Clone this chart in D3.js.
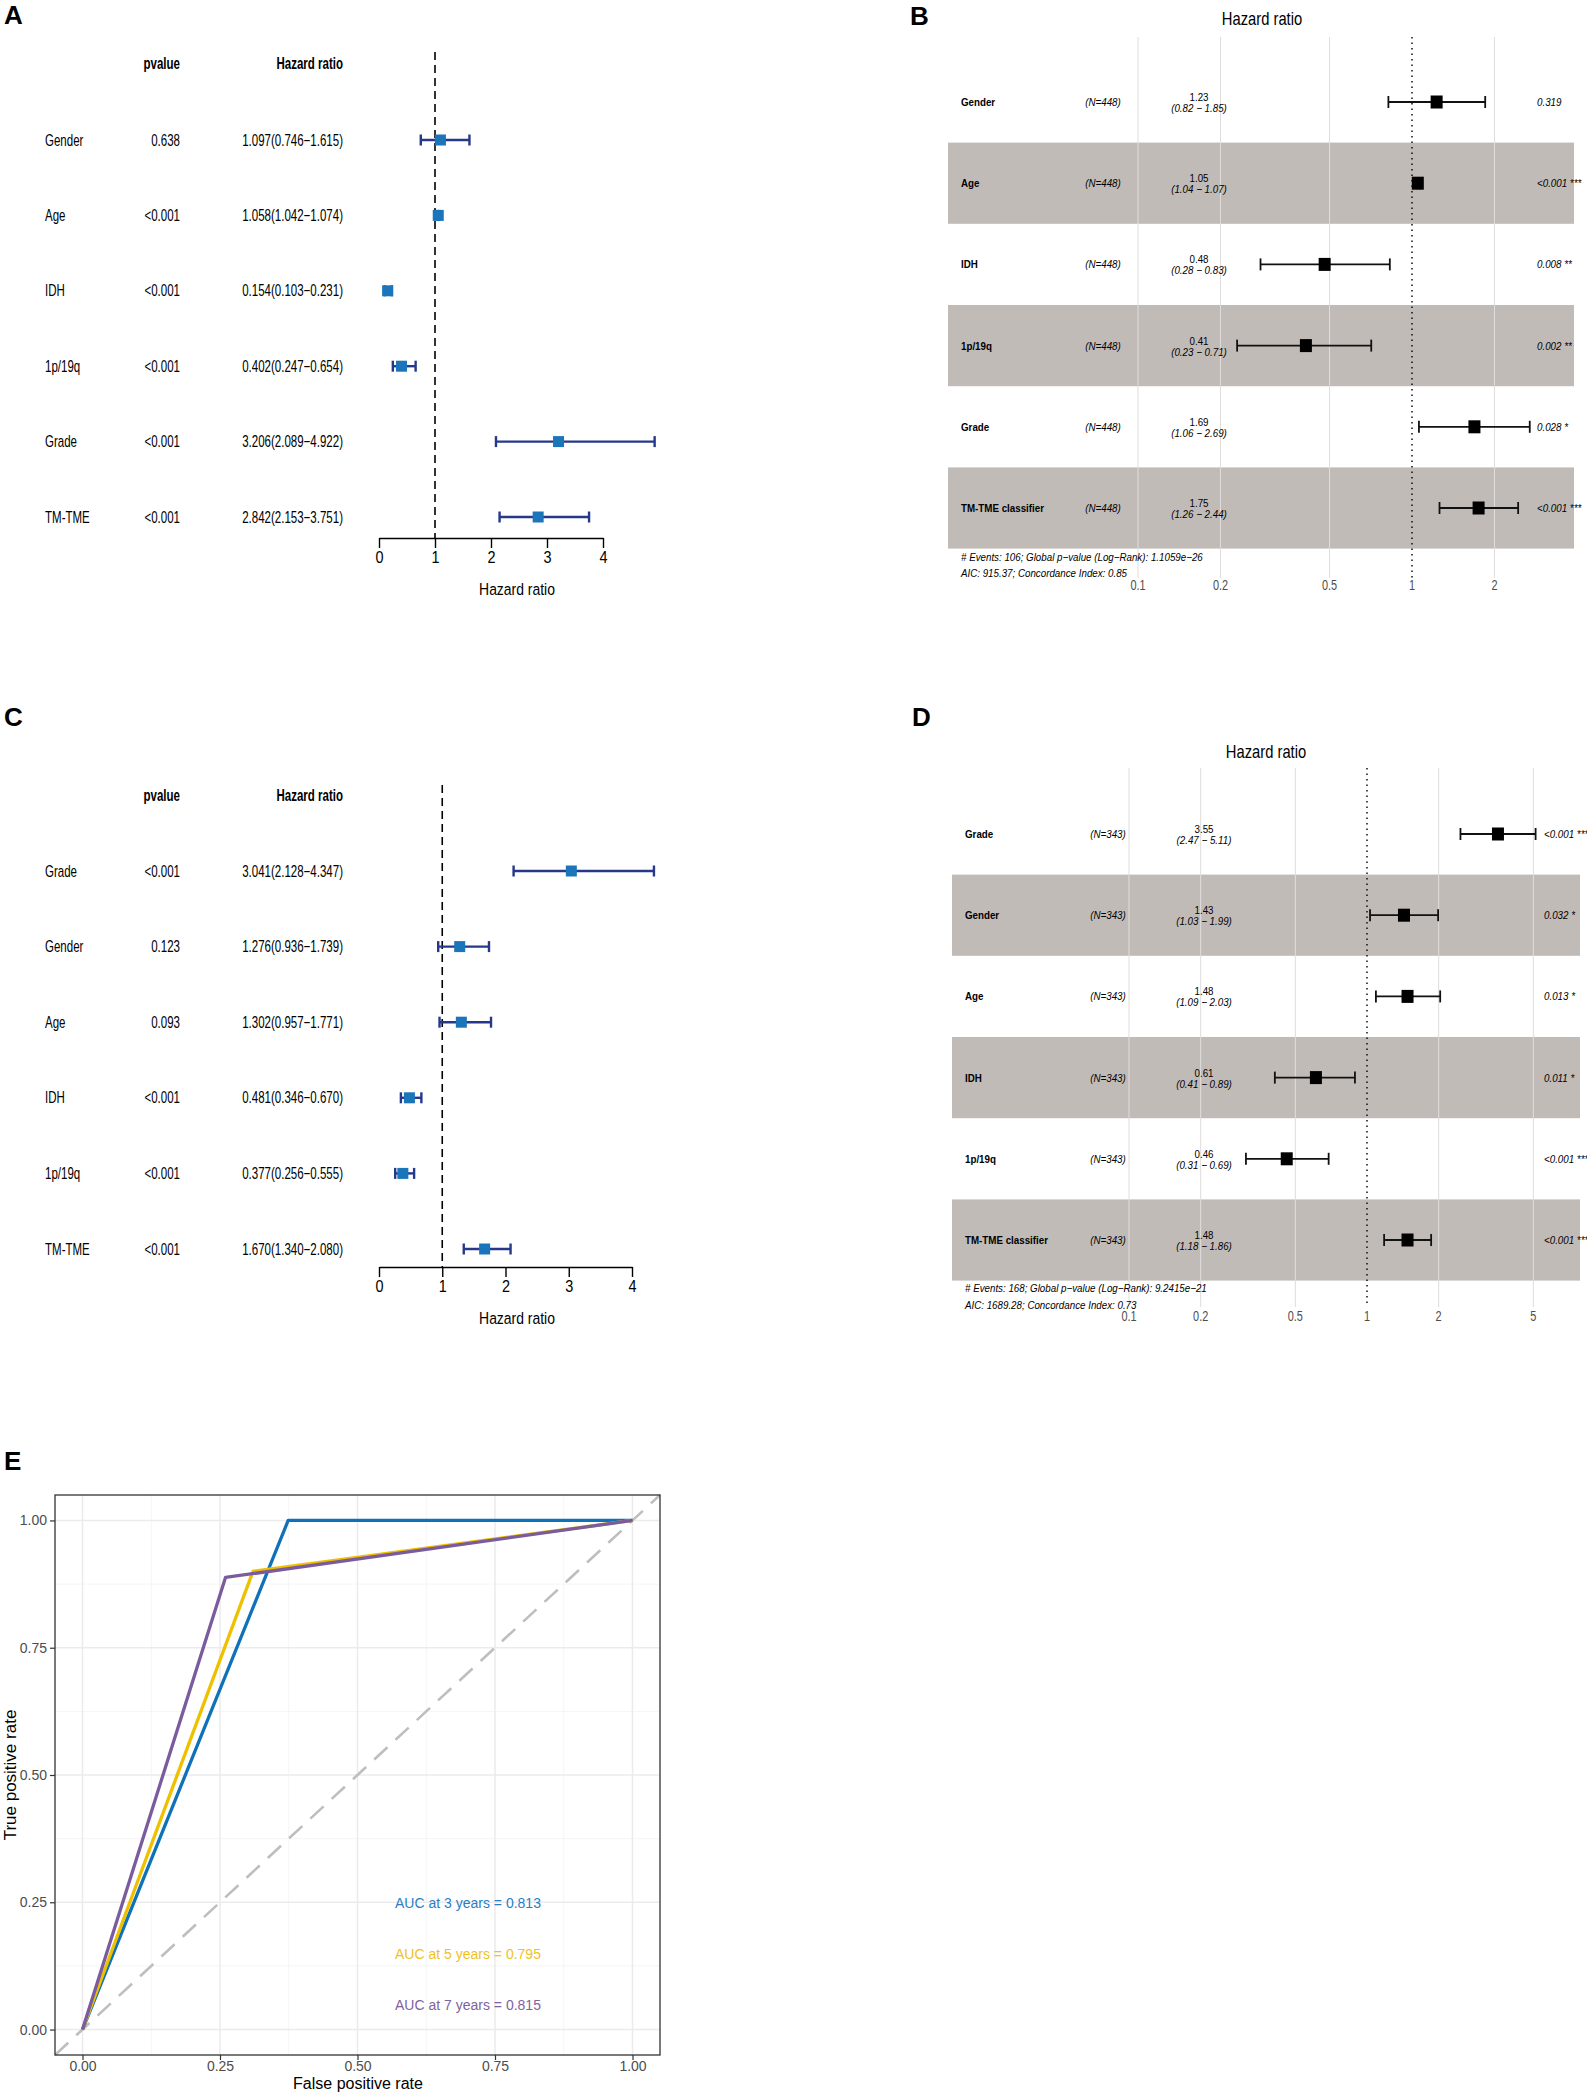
<!DOCTYPE html>
<html>
<head>
<meta charset="utf-8">
<script src="https://cdn.jsdelivr.net/npm/d3@7"></script>
<style>
  body { margin: 0; background: #fff; }
  text { font-family: "Liberation Sans", Arial, Helvetica, sans-serif; }
</style>
</head>
<body>
<div id="fig"></div>
<script>
//
// Data
//

// A: univariate cox, TCGA
const uniLabels = ["Gender", "Age", "IDH", "1p/19q", "Grade", "TM-TME"];
const uniP = ["0.638", "<0.001", "<0.001", "<0.001", "<0.001", "<0.001"];
const uniHR = [1.097, 1.058, 0.154, 0.402, 3.206, 2.842];
const uniLo = [0.746, 1.042, 0.103, 0.247, 2.089, 2.153];
const uniHi = [1.615, 1.074, 0.231, 0.654, 4.922, 3.751];

// B: multivariate cox, TCGA
const multiLabels = ["Gender", "Age", "IDH", "1p/19q", "Grade", "TM-TME classifier"];
const multiN = ["(N=448)", "(N=448)", "(N=448)", "(N=448)", "(N=448)", "(N=448)"];
const multiHR = [1.23, 1.05, 0.48, 0.41, 1.69, 1.75];
const multiLo = [0.82, 1.04, 0.28, 0.23, 1.06, 1.26];
const multiHi = [1.85, 1.07, 0.83, 0.71, 2.69, 2.44];
const multiP = ["0.319", "<0.001 ***", "0.008 **", "0.002 **", "0.028 *", "<0.001 ***"];
const multiFoot = [
  "# Events: 106; Global p\u2212value (Log\u2212Rank): 1.1059e\u221226",
  "AIC: 915.37; Concordance Index: 0.85",
];
const multiTicks = [0.1, 0.2, 0.5, 1, 2];

// C: univariate cox, CGGA
const uni2Labels = ["Grade", "Gender", "Age", "IDH", "1p/19q", "TM-TME"];
const uni2P = ["<0.001", "0.123", "0.093", "<0.001", "<0.001", "<0.001"];
const uni2HR = [3.041, 1.276, 1.302, 0.481, 0.377, 1.67];
const uni2Lo = [2.128, 0.936, 0.957, 0.346, 0.256, 1.34];
const uni2Hi = [4.347, 1.739, 1.771, 0.67, 0.555, 2.08];

// D: multivariate cox, CGGA
const multi2Labels = ["Grade", "Gender", "Age", "IDH", "1p/19q", "TM-TME classifier"];
const multi2N = ["(N=343)", "(N=343)", "(N=343)", "(N=343)", "(N=343)", "(N=343)"];
const multi2HR = [3.55, 1.43, 1.48, 0.61, 0.46, 1.48];
const multi2Lo = [2.47, 1.03, 1.09, 0.41, 0.31, 1.18];
const multi2Hi = [5.11, 1.99, 2.03, 0.89, 0.69, 1.86];
const multi2P = ["<0.001 ***", "0.032 *", "0.013 *", "0.011 *", "<0.001 ***", "<0.001 ***"];
const multi2Foot = [
  "# Events: 168; Global p\u2212value (Log\u2212Rank): 9.2415e\u221221",
  "AIC: 1689.28; Concordance Index: 0.73",
];
const multi2Ticks = [0.1, 0.2, 0.5, 1, 2, 5];

const hrTicks = [0, 1, 2, 3, 4];

// E: time dependent ROC
const rocYears = [3, 5, 7];
const rocAUC = ["0.813", "0.795", "0.815"];
const rocFPR = [
  [0, 0.374, 1],
  [0, 0.31, 1],
  [0, 0.26, 1],
];
const rocTPR = [
  [0, 1, 1],
  [0, 0.9, 1],
  [0, 0.888, 1],
];
const rocColors = ["#0f72b8", "#efc000", "#7a5c9e"];
const rocTextColors = ["#2a7ec6", "#f0c21a", "#7e63a0"];
const rocTicks = [0, 0.25, 0.5, 0.75, 1];

//
// Helpers
//

const svg = d3
  .select("#fig")
  .append("svg")
  .attr("width", 1587)
  .attr("height", 2092);

// text with horizontal squeeze, the original was rendered with a narrow font
function txt(g, x, y, s, o = {}) {
  return g
    .append("text")
    .attr("transform", `translate(${x},${y}) scale(${o.sx || 1},1)`)
    .attr("text-anchor", o.anchor || "start")
    .attr("dy", "0.35em")
    .style("font-size", (o.size || 12) + "px")
    .style("font-weight", o.bold ? "bold" : null)
    .style("font-style", o.italic ? "italic" : null)
    .attr("fill", o.color || "#000")
    .text(s);
}

function panelLetter(x, y, s) {
  svg
    .append("text")
    .attr("x", x)
    .attr("y", y)
    .style("font-size", "26px")
    .style("font-weight", "bold")
    .text(s);
}

//
// Panels A and C (base R style forest)
//

function forestBase(d) {
  const g = svg.append("g");
  const x = d3.scaleLinear().domain([0, 4]).range(d.xRange);
  const y = d3.scalePoint().domain(d.labels).range(d.yRange);
  const f = d3.format(".3f");
  const sq = { sx: 0.72, size: 16 };

  txt(g, 180, d.headY, "pvalue", { ...sq, anchor: "end", bold: true });
  txt(g, 343, d.headY, "Hazard ratio", { ...sq, anchor: "end", bold: true });

  d.labels.forEach((lab, i) => {
    const yy = y(lab);
    txt(g, 45, yy, lab, sq);
    txt(g, 180, yy, d.p[i], { ...sq, anchor: "end" });
    txt(g, 343, yy, `${f(d.hr[i])}(${f(d.lo[i])}\u2212${f(d.hi[i])})`, {
      ...sq,
      anchor: "end",
    });
  });

  g.append("line")
    .attr("x1", x(1))
    .attr("x2", x(1))
    .attr("y1", d.top)
    .attr("y2", d.axisY)
    .attr("stroke", "#000")
    .attr("stroke-width", 1.6)
    .attr("stroke-dasharray", "8,5");

  d.labels.forEach((lab, i) => {
    const yy = y(lab);
    const row = g.append("g").attr("stroke", "#25388a").attr("stroke-width", 2.4);
    row.append("line").attr("x1", x(d.lo[i])).attr("x2", x(d.hi[i])).attr("y1", yy).attr("y2", yy);
    [d.lo[i], d.hi[i]].forEach((v) =>
      row.append("line").attr("x1", x(v)).attr("x2", x(v)).attr("y1", yy - 5.5).attr("y2", yy + 5.5)
    );
    g.append("rect")
      .attr("x", x(d.hr[i]) - 5.5)
      .attr("y", yy - 5.5)
      .attr("width", 11)
      .attr("height", 11)
      .attr("fill", "#1b75bb");
  });

  const ax = g
    .append("g")
    .attr("transform", `translate(0,${d.axisY})`)
    .call(
      d3.axisBottom(x).tickValues(hrTicks).tickFormat(d3.format("d")).tickSize(10).tickSizeOuter(0)
    );
  ax.select(".domain").attr("stroke-width", 1.4);
  ax.selectAll(".tick line").attr("stroke-width", 1.4);
  ax.selectAll("text")
    .style("font-size", "17px")
    .attr("fill", "#000")
    .attr("transform", "scale(0.85,1)");

  txt(g, 517, d.axisY + 51, "Hazard ratio", { size: 17, sx: 0.82, anchor: "middle" });
}

//
// Panels B and D (ggforest style)
//

function forestGG(d) {
  const g = svg.append("g");
  const x = d3.scaleLog().domain([0.1, 1]).range(d.xRange);
  const y = d3.scalePoint().domain(d.labels).range(d.yRange);
  const step = y.step();
  const f = d3.format(".2f");
  const sm = { size: 11.5, sx: 0.85 };

  // bands behind every other row
  d.labels.forEach((lab, i) => {
    if (i % 2 === 1) {
      g.append("rect")
        .attr("x", d.bandX[0])
        .attr("width", d.bandX[1] - d.bandX[0])
        .attr("y", y(lab) - step / 2)
        .attr("height", step)
        .attr("fill", "#c1bbb8");
    }
  });

  d.ticks.forEach((t) => {
    if (t === 1) return;
    g.append("line")
      .attr("x1", x(t))
      .attr("x2", x(t))
      .attr("y1", d.gridY[0])
      .attr("y2", d.gridY[1])
      .attr("stroke", "#e0dddc")
      .attr("stroke-width", 1);
  });
  g.append("line")
    .attr("x1", x(1))
    .attr("x2", x(1))
    .attr("y1", d.gridY[0])
    .attr("y2", d.gridY[1])
    .attr("stroke", "#000")
    .attr("stroke-width", 1.4)
    .attr("stroke-dasharray", "1.5,4");

  txt(g, d.titleX, d.titleY, "Hazard ratio", { size: 18, sx: 0.82, anchor: "middle" });

  d.labels.forEach((lab, i) => {
    const yy = y(lab);
    txt(g, d.colX[0], yy, lab, { ...sm, bold: true });
    txt(g, d.colX[1], yy, d.n[i], { ...sm, italic: true, anchor: "middle" });
    txt(g, d.colX[2], yy - 5, f(d.hr[i]), { ...sm, anchor: "middle" });
    txt(g, d.colX[2], yy + 6, `(${f(d.lo[i])} \u2212 ${f(d.hi[i])})`, {
      ...sm,
      italic: true,
      anchor: "middle",
    });
    txt(g, d.colX[3], yy, d.p[i], { ...sm, italic: true });

    const row = g.append("g").attr("stroke", "#111").attr("stroke-width", 1.8);
    row.append("line").attr("x1", x(d.lo[i])).attr("x2", x(d.hi[i])).attr("y1", yy).attr("y2", yy);
    [d.lo[i], d.hi[i]].forEach((v) =>
      row.append("line").attr("x1", x(v)).attr("x2", x(v)).attr("y1", yy - 6).attr("y2", yy + 6)
    );
    g.append("rect")
      .attr("x", x(d.hr[i]) - 6)
      .attr("y", yy - 6.5)
      .attr("width", 12)
      .attr("height", 13)
      .attr("fill", "#000");
  });

  d.foot.forEach((s, i) => txt(g, d.colX[0], d.footY[i], s, { ...sm, italic: true }));

  d.ticks.forEach((t) =>
    txt(g, x(t), d.tickY, String(t), { size: 14, sx: 0.78, anchor: "middle", color: "#4d4d4d" })
  );
}

//
// Panel E (ROC)
//

function roc() {
  const g = svg.append("g");
  const L = 55, R = 660, T = 1495, B = 2055;
  const x = d3.scaleLinear().domain([-0.05, 1.05]).range([L, R]);
  const y = d3.scaleLinear().domain([-0.05, 1.05]).range([B, T]);
  const minor = [0.125, 0.375, 0.625, 0.875];

  g.append("rect").attr("x", L).attr("y", T).attr("width", R - L).attr("height", B - T).attr("fill", "#fff");

  minor.forEach((t) => {
    g.append("line").attr("x1", x(t)).attr("x2", x(t)).attr("y1", T).attr("y2", B)
      .attr("stroke", "#f2f2f2").attr("stroke-width", 0.8);
    g.append("line").attr("y1", y(t)).attr("y2", y(t)).attr("x1", L).attr("x2", R)
      .attr("stroke", "#f2f2f2").attr("stroke-width", 0.8);
  });
  rocTicks.forEach((t) => {
    g.append("line").attr("x1", x(t)).attr("x2", x(t)).attr("y1", T).attr("y2", B)
      .attr("stroke", "#ebebeb").attr("stroke-width", 1.5);
    g.append("line").attr("y1", y(t)).attr("y2", y(t)).attr("x1", L).attr("x2", R)
      .attr("stroke", "#ebebeb").attr("stroke-width", 1.5);
  });

  g.append("line")
    .attr("x1", x(-0.05))
    .attr("y1", y(-0.05))
    .attr("x2", x(1.05))
    .attr("y2", y(1.05))
    .attr("stroke", "#bebebe")
    .attr("stroke-width", 2.6)
    .attr("stroke-dasharray", "18,11");

  const line = d3
    .line()
    .x((p) => x(p[0]))
    .y((p) => y(p[1]));

  rocYears.forEach((yr, k) => {
    g.append("path")
      .attr("d", line(d3.zip(rocFPR[k], rocTPR[k])))
      .attr("fill", "none")
      .attr("stroke", rocColors[k])
      .attr("stroke-width", 3.3)
      .attr("stroke-linejoin", "round");
  });

  rocYears.forEach((yr, k) => {
    txt(g, 395, 1903 + 51 * k, `AUC at ${yr} years = ${rocAUC[k]}`, {
      size: 14,
      color: rocTextColors[k],
    });
  });

  g.append("rect")
    .attr("x", L)
    .attr("y", T)
    .attr("width", R - L)
    .attr("height", B - T)
    .attr("fill", "none")
    .attr("stroke", "#333")
    .attr("stroke-width", 1.3);

  const fmt = d3.format(".2f");
  const xa = g
    .append("g")
    .attr("transform", `translate(0,${B})`)
    .call(
      d3.axisBottom(x).tickValues(rocTicks).tickFormat(fmt).tickSize(5).tickPadding(1).tickSizeOuter(0)
    );
  const ya = g
    .append("g")
    .attr("transform", `translate(${L},0)`)
    .call(d3.axisLeft(y).tickValues(rocTicks).tickFormat(fmt).tickSize(5).tickSizeOuter(0));
  [xa, ya].forEach((a) => {
    a.select(".domain").remove();
    a.selectAll(".tick line").attr("stroke", "#333").attr("stroke-width", 1.2);
    a.selectAll("text").style("font-size", "14px").attr("fill", "#4d4d4d");
  });

  g.append("text")
    .attr("x", 358)
    .attr("y", 2089)
    .attr("text-anchor", "middle")
    .style("font-size", "16px")
    .text("False positive rate");
  g.append("text")
    .attr("transform", "translate(16,1775) rotate(-90)")
    .attr("text-anchor", "middle")
    .style("font-size", "17px")
    .text("True positive rate");
}

//
// Draw
//

panelLetter(4, 24, "A");
forestBase({
  labels: uniLabels,
  p: uniP,
  hr: uniHR,
  lo: uniLo,
  hi: uniHi,
  xRange: [379, 603],
  yRange: [140, 517],
  headY: 63,
  top: 52,
  axisY: 538,
});

panelLetter(910, 25, "B");
forestGG({
  labels: multiLabels,
  n: multiN,
  hr: multiHR,
  lo: multiLo,
  hi: multiHi,
  p: multiP,
  foot: multiFoot,
  ticks: multiTicks,
  xRange: [1138, 1412],
  yRange: [102, 508],
  bandX: [948, 1574],
  gridY: [37, 578],
  titleX: 1262,
  titleY: 19,
  colX: [961, 1103, 1199, 1537],
  footY: [557, 573],
  tickY: 585,
});

panelLetter(4, 726, "C");
forestBase({
  labels: uni2Labels,
  p: uni2P,
  hr: uni2HR,
  lo: uni2Lo,
  hi: uni2Hi,
  xRange: [379, 632],
  yRange: [871, 1249],
  headY: 795,
  top: 785,
  axisY: 1267,
});

panelLetter(912, 726, "D");
forestGG({
  labels: multi2Labels,
  n: multi2N,
  hr: multi2HR,
  lo: multi2Lo,
  hi: multi2Hi,
  p: multi2P,
  foot: multi2Foot,
  ticks: multi2Ticks,
  xRange: [1129, 1367],
  yRange: [834, 1240],
  bandX: [952, 1580],
  gridY: [768, 1307],
  titleX: 1266,
  titleY: 752,
  colX: [965, 1108, 1204, 1544],
  footY: [1288, 1305],
  tickY: 1316,
});

panelLetter(4, 1470, "E");
roc();
</script>
</body>
</html>
